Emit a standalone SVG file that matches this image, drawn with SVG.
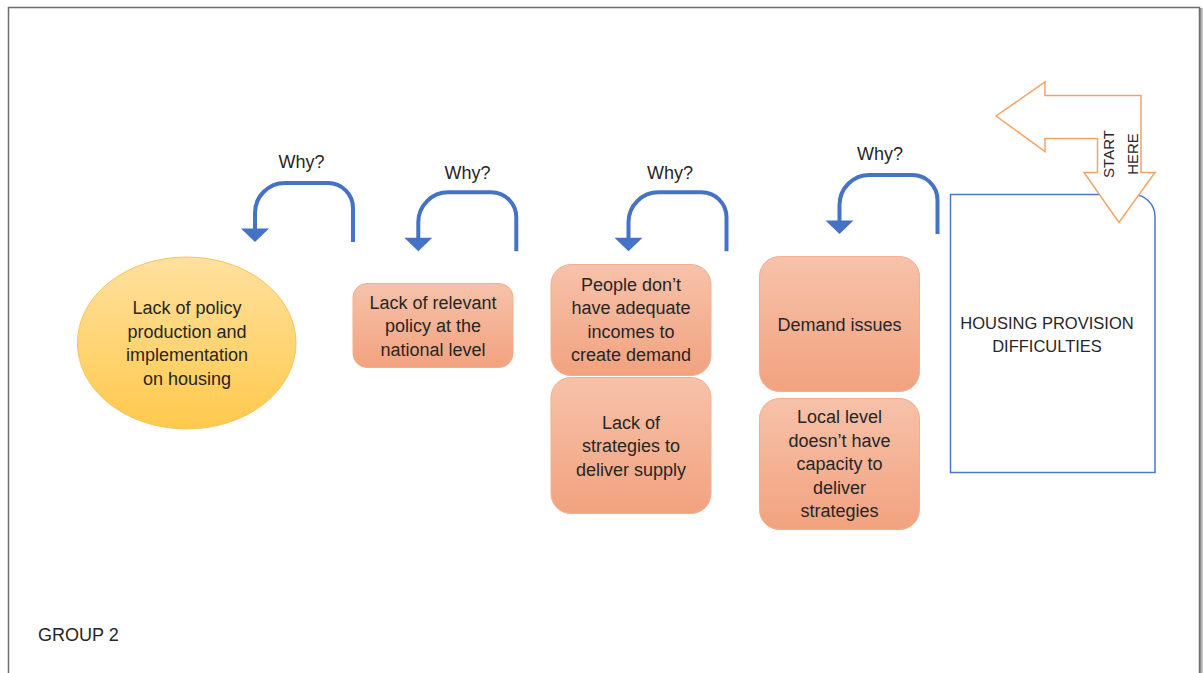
<svg xmlns="http://www.w3.org/2000/svg" width="1203" height="673" viewBox="0 0 1203 673">
  <defs>
    <style>
      .t{font-family:"Liberation Sans",Arial,sans-serif;font-size:18px;fill:#262626;text-anchor:middle}
      .caps{font-size:16.5px}
      .small{font-size:15px}
      .box{fill:url(#gBox);stroke:#F3AE8B;stroke-width:1}
      .why{fill:none;stroke:#4472C4;stroke-width:4}
      .whyHead{fill:#4472C4}
    </style>
    <linearGradient id="gBox" x1="0" y1="0" x2="0" y2="1">
      <stop offset="0" stop-color="#F6C2AA"/>
      <stop offset="1" stop-color="#F2A27F"/>
    </linearGradient>
    <linearGradient id="gOval" x1="0" y1="0" x2="0" y2="1">
      <stop offset="0" stop-color="#FFE09E"/>
      <stop offset="1" stop-color="#FFC94C"/>
    </linearGradient>
    <linearGradient id="gShadow" x1="0" y1="0" x2="1" y2="0">
      <stop offset="0" stop-color="#8a8a8a"/>
      <stop offset="1" stop-color="#d8d8d8"/>
    </linearGradient>
    <!-- U-turn "why" arrow: right leg up, over the top, down the left leg -->
    <g id="uturn">
      <path class="why" d="M98,59 V25 A25,25 0 0 0 73,0 H30 A30,30 0 0 0 0,30 V46"/>
      <polygon class="whyHead" points="-14,45.5 14,45.5 0,59"/>
    </g>
  </defs>

  <!-- page frame -->
  <rect x="0" y="0" width="1203" height="673" fill="#ffffff"/>
  <rect x="1200" y="8" width="3" height="665" fill="url(#gShadow)"/>
  <path d="M8.5,673 V7.5 H1199.5 V673" fill="none" stroke="#6E6E6E" stroke-width="1.5"/>

  <!-- nodes -->
  <g id="node-housing">
    <path d="M950.5,194.5 H1133 A22,22 0 0 1 1155,216.5 V472.5 H950.5 Z" fill="#ffffff" stroke="#4A78C8" stroke-width="1.5"/>
    <text class="t caps" x="1047" y="328.5">HOUSING PROVISION</text>
    <text class="t caps" x="1047" y="352">DIFFICULTIES</text>
  </g>

  <g id="node-demand">
    <rect class="box" x="759.5" y="256.5" width="160" height="135" rx="20"/>
    <text class="t" x="839.5" y="330.5">Demand issues</text>
  </g>

  <g id="node-local-capacity">
    <rect class="box" x="759.5" y="398.5" width="160" height="131" rx="20"/>
    <text class="t" x="839.5" y="423">Local level</text>
    <text class="t" x="839.5" y="446.5">doesn’t have</text>
    <text class="t" x="839.5" y="470">capacity to</text>
    <text class="t" x="839.5" y="493.5">deliver</text>
    <text class="t" x="839.5" y="517">strategies</text>
  </g>

  <g id="node-incomes">
    <rect class="box" x="551" y="264.5" width="160" height="111" rx="20"/>
    <text class="t" x="631" y="290.5">People don’t</text>
    <text class="t" x="631" y="314">have adequate</text>
    <text class="t" x="631" y="337.5">incomes to</text>
    <text class="t" x="631" y="361">create demand</text>
  </g>

  <g id="node-strategies">
    <rect class="box" x="551" y="377.5" width="160" height="136" rx="20"/>
    <text class="t" x="631" y="428.5">Lack of</text>
    <text class="t" x="631" y="452">strategies to</text>
    <text class="t" x="631" y="475.5">deliver supply</text>
  </g>

  <g id="node-national-policy">
    <rect class="box" x="353" y="283.5" width="160" height="84" rx="14"/>
    <text class="t" x="433" y="308.5">Lack of relevant</text>
    <text class="t" x="433" y="332">policy at the</text>
    <text class="t" x="433" y="355.5">national level</text>
  </g>

  <g id="node-root-cause">
    <ellipse cx="186.7" cy="343" rx="109.3" ry="86" fill="url(#gOval)" stroke="#F6C45E" stroke-width="1"/>
    <text class="t" x="187" y="314">Lack of policy</text>
    <text class="t" x="187" y="337.5">production and</text>
    <text class="t" x="187" y="361">implementation</text>
    <text class="t" x="187" y="384.5">on housing</text>
  </g>

  <!-- connectors -->
  <g id="connectors">
    <g id="start-arrow">
      <polygon points="996,116 1045,82 1045,95.5 1141,95.5 1141,172.5 1155,172.5 1119,222.5 1084,172.5 1097.5,172.5 1097.5,138.5 1045,138.5 1045,151.5" fill="#ffffff" stroke="#F4A366" stroke-width="1.5" stroke-linejoin="miter"/>
      <text class="t small" transform="translate(1113.5,154) rotate(-90)">START</text>
      <text class="t small" transform="translate(1137.5,154) rotate(-90)">HERE</text>
    </g>
    <g id="why-4">
      <use href="#uturn" transform="translate(839.5,175)"/>
      <text class="t" x="880" y="160">Why?</text>
    </g>
    <g id="why-3">
      <use href="#uturn" transform="translate(628.5,192.3)"/>
      <text class="t" x="670" y="178.5">Why?</text>
    </g>
    <g id="why-2">
      <use href="#uturn" transform="translate(418.3,192.3)"/>
      <text class="t" x="467.5" y="178.5">Why?</text>
    </g>
    <g id="why-1">
      <use href="#uturn" transform="translate(255,183)"/>
      <text class="t" x="301.5" y="168">Why?</text>
    </g>
  </g>

  <text class="t" x="38" y="641" style="text-anchor:start">GROUP 2</text>
</svg>
